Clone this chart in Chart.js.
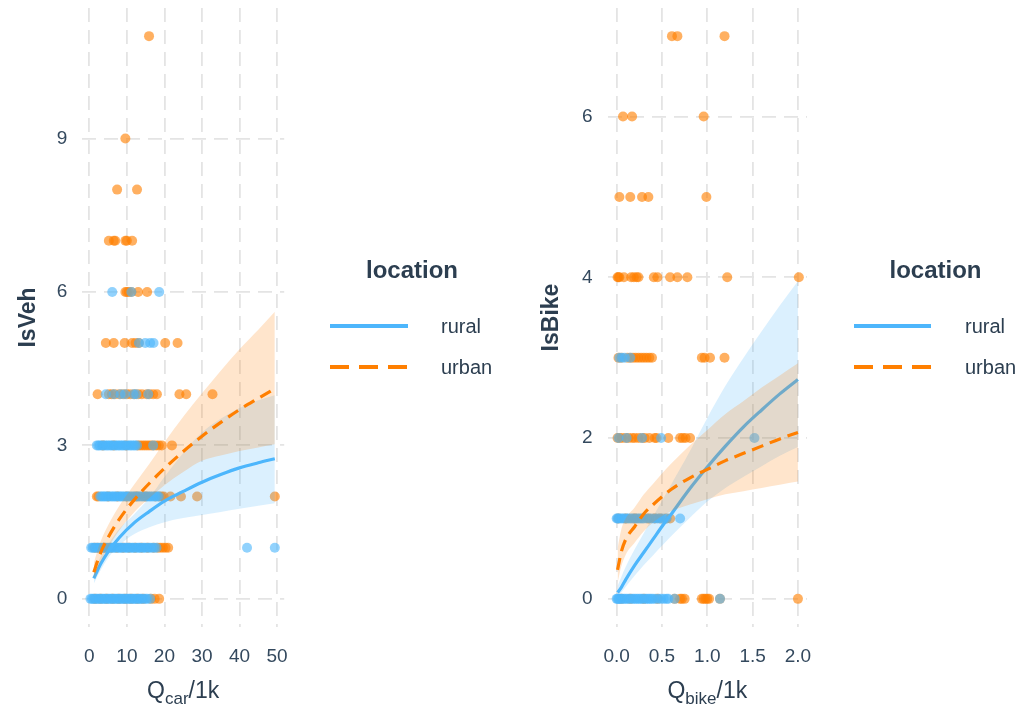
<!DOCTYPE html>
<html>
<head>
<meta charset="utf-8">
<script src="https://cdn.jsdelivr.net/npm/chart.js@4.4.1/dist/chart.umd.min.js"></script>
<style>
  html, body { margin: 0; padding: 0; background: #ffffff; }
  #wrap { position: relative; width: 1029px; height: 706px; overflow: hidden; }
  canvas { position: absolute; top: 0; }
</style>
</head>
<body>
<div id="wrap">
  <canvas id="vehChart" width="520" height="706" style="left:0px"></canvas>
  <canvas id="bikeChart" width="509" height="706" style="left:520px"></canvas>
</div>
<script>
// ---------- observed incidents: [count, [flows in 1k]] ----------
const vehRural = [
  [0, [0.3, 0.7, 1.1, 1.5, 1.9, 2.3, 2.7, 3.1, 3.5, 3.9, 4.3, 4.7, 5.1, 5.5, 5.9, 6.3, 6.7, 7.1, 7.5, 7.9, 8.3, 8.7, 9.1, 9.5, 9.9, 10.3, 10.7, 11.1, 11.5, 11.9, 12.3, 12.7, 13.1, 13.5, 13.9, 14.4, 14.9, 15.4, 16.2]],
  [1, [0.5, 0.9, 1.3, 1.7, 2.1, 2.5, 2.9, 3.3, 3.7, 4.1, 4.6, 5.0, 5.4, 5.8, 6.2, 6.6, 7.0, 7.5, 7.9, 8.3, 8.7, 9.1, 9.6, 10.0, 10.4, 10.8, 11.3, 11.7, 12.1, 12.5, 13.0, 13.4, 13.8, 14.3, 14.7, 15.2, 15.7, 16.2, 16.8, 17.3, 17.9, 42.0, 49.4]],
  [2, [2.9, 3.3, 3.7, 4.1, 4.5, 4.9, 5.3, 5.8, 6.2, 6.6, 7.0, 7.4, 7.9, 8.3, 8.7, 9.1, 9.6, 10.0, 10.4, 10.8, 11.3, 11.7, 12.1, 12.6, 13.0, 13.4, 13.9, 14.3, 14.7, 15.2, 15.6, 16.1, 16.5, 17.0, 17.5, 18.0, 18.5]],
  [3, [2.0, 2.4, 2.8, 3.3, 3.7, 4.1, 4.6, 5.0, 5.5, 5.9, 6.3, 6.8, 7.2, 7.7, 8.1, 8.6, 9.0, 9.5, 9.9, 10.4, 10.9, 11.3, 11.8, 12.2, 12.7, 17.0]],
  [4, [4.4, 6.5, 8.3, 9.5, 11.8, 12.5, 15.7]],
  [5, [13.2, 14.9, 16.2, 17.1]],
  [6, [6.1, 11.2, 18.6]]
];
const vehUrban = [
  [0, [1.5, 3.0, 4.6, 6.2, 7.9, 9.5, 11.1, 12.8, 14.3, 16.4, 17.4, 18.6]],
  [1, [1.4, 2.2, 4.1, 5.8, 7.3, 9.0, 10.6, 12.2, 13.9, 15.5, 17.1, 18.2, 18.9, 19.6, 20.3, 21.0]],
  [2, [2.0, 2.4, 5.0, 7.5, 10.0, 12.5, 15.0, 17.6, 18.6, 19.2, 19.8, 21.6, 24.4, 28.7, 49.4]],
  [3, [3.6, 6.5, 9.8, 12.9, 13.5, 14.1, 14.7, 15.3, 15.9, 16.5, 17.1, 17.8, 18.5, 19.3, 22.0]],
  [4, [2.2, 5.2, 6.0, 6.8, 8.0, 9.0, 10.0, 10.9, 12.0, 13.0, 14.0, 15.3, 16.0, 17.0, 18.0, 24.0, 25.8, 32.8]],
  [5, [4.4, 6.5, 9.4, 11.4, 12.3, 13.2, 20.2, 23.5]],
  [6, [9.6, 10.0, 10.5, 11.2, 13.0, 15.4]],
  [7, [5.2, 6.5, 6.9, 9.6, 10.0, 11.4]],
  [8, [7.4, 12.7]],
  [9, [9.6]],
  [11, [15.9]]
];
const bikeRural = [
  [0, [0.00, 0.01, 0.02, 0.03, 0.05, 0.06, 0.08, 0.10, 0.12, 0.14, 0.16, 0.18, 0.20, 0.22, 0.24, 0.26, 0.28, 0.30, 0.32, 0.34, 0.36, 0.38, 0.40, 0.43, 0.46, 0.49, 0.52, 0.55, 0.57, 0.64, 1.14]],
  [1, [0.00, 0.01, 0.02, 0.04, 0.06, 0.08, 0.10, 0.12, 0.14, 0.16, 0.18, 0.20, 0.22, 0.24, 0.26, 0.28, 0.30, 0.33, 0.36, 0.39, 0.42, 0.45, 0.48, 0.51, 0.55, 0.70]],
  [2, [0.02, 0.11, 0.28, 0.49, 1.52]],
  [3, [0.03, 0.06, 0.09, 0.15]]
];
const bikeUrban = [
  [0, [0.05, 0.15, 0.30, 0.45, 0.64, 0.70, 0.72, 0.75, 0.94, 0.96, 0.98, 1.00, 1.02, 1.14, 2.00]],
  [1, [0.02, 0.10, 0.20, 0.35, 0.42, 0.48, 0.55, 0.59]],
  [2, [0.01, 0.03, 0.06, 0.10, 0.13, 0.17, 0.20, 0.24, 0.28, 0.31, 0.36, 0.42, 0.44, 0.57, 0.70, 0.73, 0.76, 0.81]],
  [3, [0.02, 0.05, 0.12, 0.15, 0.18, 0.21, 0.24, 0.27, 0.30, 0.33, 0.36, 0.39, 0.94, 0.97, 1.03, 1.19]],
  [4, [0.01, 0.02, 0.03, 0.08, 0.16, 0.19, 0.22, 0.24, 0.41, 0.45, 0.59, 0.67, 0.78, 1.22, 2.01]],
  [5, [0.03, 0.15, 0.28, 0.35, 0.99]],
  [6, [0.07, 0.17, 0.96]],
  [7, [0.61, 0.67, 1.19]]
];

// ---------- fitted means with confidence bands ----------
const carFitX     = [1.2, 2, 3, 5, 8, 12, 16, 20, 25, 30, 35, 40, 45, 49.4];
const vehRuralFit = [0.40, 0.53, 0.68, 0.92, 1.20, 1.49, 1.71, 1.91, 2.10, 2.28, 2.43, 2.56, 2.66, 2.74];
const vehRuralLo  = [0.30, 0.42, 0.56, 0.80, 1.05, 1.27, 1.40, 1.50, 1.58, 1.64, 1.70, 1.76, 1.82, 1.87];
const vehRuralHi  = [0.53, 0.67, 0.82, 1.06, 1.37, 1.66, 1.98, 2.38, 2.85, 3.25, 3.52, 3.73, 3.88, 3.98];
const vehUrbanFit = [0.52, 0.70, 0.90, 1.20, 1.56, 1.94, 2.26, 2.55, 2.88, 3.18, 3.45, 3.70, 3.92, 4.11];
const vehUrbanLo  = [0.38, 0.54, 0.72, 1.00, 1.34, 1.70, 1.97, 2.22, 2.48, 2.70, 2.80, 2.89, 2.96, 3.02];
const vehUrbanHi  = [0.70, 0.90, 1.12, 1.44, 1.82, 2.24, 2.64, 3.06, 3.56, 4.02, 4.46, 4.88, 5.26, 5.61];

const bikeFitX     = [0.01, 0.05, 0.1, 0.2, 0.3, 0.4, 0.5, 0.6, 0.8, 1.0, 1.2, 1.4, 1.6, 1.8, 2.0];
const bikeRuralFit = [0.08, 0.14, 0.24, 0.42, 0.58, 0.74, 0.90, 1.05, 1.36, 1.64, 1.90, 2.14, 2.35, 2.55, 2.73];
const bikeRuralLo  = [0.04, 0.08, 0.15, 0.29, 0.42, 0.54, 0.66, 0.78, 1.00, 1.21, 1.38, 1.52, 1.65, 1.78, 1.89];
const bikeRuralHi  = [0.16, 0.27, 0.40, 0.62, 0.82, 1.02, 1.22, 1.42, 1.82, 2.25, 2.65, 3.00, 3.33, 3.65, 3.95];
const bikeUrbanFit = [0.36, 0.58, 0.74, 0.90, 1.06, 1.17, 1.27, 1.36, 1.50, 1.61, 1.72, 1.81, 1.90, 1.99, 2.07];
const bikeUrbanLo  = [0.20, 0.40, 0.55, 0.70, 0.84, 0.95, 1.03, 1.09, 1.17, 1.24, 1.30, 1.34, 1.38, 1.42, 1.46];
const bikeUrbanHi  = [0.62, 0.86, 1.00, 1.14, 1.30, 1.43, 1.56, 1.68, 1.90, 2.10, 2.30, 2.46, 2.63, 2.78, 2.93];

// ---------- ticks and labels ----------
const vehTicks   = [0, 3, 6, 9];
const carTicks   = [0, 10, 20, 30, 40, 50];
const bikeTicks  = [0, 2, 4, 6];
const qbikeTicks = [0, 0.5, 1, 1.5, 2];
const locations  = ['rural', 'urban'];

// ---------- styling ----------
const FONT = '"Liberation Sans", Arial, Helvetica, sans-serif';
const TEXT = '#2c3e50';
const TICK = '#34495e';
const GRID = '#e4e4e4';
const RURAL = [77, 182, 252];
const URBAN = [255, 127, 0];
const rgba = (c, a) => `rgba(${c[0]},${c[1]},${c[2]},${a})`;
const URBAN_DASH = [12, 7];
const GRID_DASH = [14, 8];

const toPoints = rows => rows.flatMap(([y, xs]) => xs.map(x => ({ x, y })));
const toCurve = (xs, ys) => xs.map((x, i) => ({ x, y: ys[i] }));

// axis titles (with subscript) and the colour/linetype key
const annotate = {
  id: 'annotate',
  afterDraw(chart, _args, o) {
    const { ctx, chartArea: a } = chart;

    ctx.save();
    ctx.fillStyle = TEXT;
    ctx.font = `bold 23px ${FONT}`;
    ctx.textAlign = 'center';
    ctx.textBaseline = 'alphabetic';
    ctx.translate(o.yTitleX, (a.top + a.bottom) / 2);
    ctx.rotate(-Math.PI / 2);
    ctx.fillText(o.yTitle, 0, 0);
    ctx.restore();

    ctx.save();
    ctx.fillStyle = TEXT;
    ctx.textAlign = 'left';
    ctx.textBaseline = 'alphabetic';
    const [main, sub, tail] = o.xTitle;
    ctx.font = `23px ${FONT}`;
    const w1 = ctx.measureText(main).width, w3 = ctx.measureText(tail).width;
    ctx.font = `17px ${FONT}`;
    const w2 = ctx.measureText(sub).width;
    let x = (a.left + a.right) / 2 - (w1 + w2 + w3) / 2;
    ctx.font = `23px ${FONT}`;
    ctx.fillText(main, x, o.xTitleY); x += w1;
    ctx.font = `17px ${FONT}`;
    ctx.fillText(sub, x, o.xTitleY + 6); x += w2;
    ctx.font = `23px ${FONT}`;
    ctx.fillText(tail, x, o.xTitleY);
    ctx.restore();

    const k = o.key;
    ctx.save();
    ctx.fillStyle = TEXT;
    ctx.font = `bold 24px ${FONT}`;
    ctx.textAlign = 'center';
    ctx.fillText(k.title, k.titleX, k.titleY);
    ctx.font = `20px ${FONT}`;
    ctx.textAlign = 'left';
    k.items.forEach((it, i) => {
      const y = k.rowY[i];
      ctx.save();
      ctx.strokeStyle = rgba(it.color, 1);
      ctx.lineWidth = 4;
      ctx.lineCap = 'butt';
      ctx.setLineDash(it.dash);
      ctx.beginPath();
      ctx.moveTo(k.x0, y);
      ctx.lineTo(k.x1, y);
      ctx.stroke();
      ctx.restore();
      ctx.fillText(it.label, k.labelX, y + 7);
    });
    ctx.restore();
  }
};

function curveSets(xs, rural, urban) {
  // rural band, rural mean, urban band, urban mean (urban drawn above)
  return [
    { data: toCurve(xs, rural.lo), borderWidth: 0, pointRadius: 0, fill: false, order: 8, cubicInterpolationMode: 'monotone' },
    { data: toCurve(xs, rural.hi), borderWidth: 0, pointRadius: 0, fill: 0, backgroundColor: rgba(RURAL, 0.2), order: 7, cubicInterpolationMode: 'monotone' },
    { data: toCurve(xs, rural.fit), borderColor: rgba(RURAL, 1), borderWidth: 3.2, pointRadius: 0, fill: false, order: 6, cubicInterpolationMode: 'monotone' },
    { data: toCurve(xs, urban.lo), borderWidth: 0, pointRadius: 0, fill: false, order: 5, cubicInterpolationMode: 'monotone' },
    { data: toCurve(xs, urban.hi), borderWidth: 0, pointRadius: 0, fill: 3, backgroundColor: rgba(URBAN, 0.2), order: 4, cubicInterpolationMode: 'monotone' },
    { data: toCurve(xs, urban.fit), borderColor: rgba(URBAN, 1), borderWidth: 3.2, borderDash: URBAN_DASH, pointRadius: 0, fill: false, order: 3, cubicInterpolationMode: 'monotone' }
  ];
}

function makePanel(id, p) {
  // datasets 0..5: curves/bands, 6..7: observations
  const datasets = curveSets(p.fitX, p.rural, p.urban).concat([
    { data: toPoints(p.urbanPts), showLine: false, pointRadius: 5, pointBorderWidth: 0, pointBackgroundColor: rgba(URBAN, 0.62), order: 12 },
    { data: toPoints(p.ruralPts), showLine: false, pointRadius: 5, pointBorderWidth: 0, pointBackgroundColor: rgba(RURAL, 0.62), order: 11 }
  ]);
  const tickFont = { family: FONT, size: 19 };
  return new Chart(document.getElementById(id), {
    type: 'line',
    data: { datasets },
    options: {
      responsive: false,
      animation: false,
      events: [],
      layout: { padding: { left: 0, top: 8, right: p.padRight, bottom: 0 } },
      plugins: {
        legend: { display: false },
        tooltip: { enabled: false },
        annotate: p.annotate
      },
      scales: {
        x: {
          type: 'linear', min: p.xMin, max: p.xMax,
          afterBuildTicks: s => { s.ticks = p.xTicks.map(value => ({ value })); },
          afterFit: s => { s.height = 79; s.paddingLeft = 0; s.paddingRight = 0; },
          ticks: { font: tickFont, color: TICK, padding: 18, maxRotation: 0, autoSkip: false, callback: p.xFmt },
          grid: { color: GRID, lineWidth: 1.8, drawTicks: false },
          border: { display: false, dash: GRID_DASH }
        },
        y: {
          type: 'linear', min: p.yMin, max: p.yMax,
          afterBuildTicks: s => { s.ticks = p.yTicks.map(value => ({ value })); },
          afterFit: s => { s.width = p.yWidth; s.paddingTop = 0; s.paddingBottom = 0; },
          ticks: { font: tickFont, color: TICK, padding: 15, autoSkip: false, callback: v => String(v) },
          grid: { color: GRID, lineWidth: 1.8, drawTicks: false },
          border: { display: false, dash: GRID_DASH }
        }
      }
    },
    plugins: [annotate]
  });
}

const keyItems = [
  { label: locations[0], color: RURAL, dash: [] },
  { label: locations[1], color: URBAN, dash: [19, 10] }
];

makePanel('vehChart', {
  fitX: carFitX,
  rural: { fit: vehRuralFit, lo: vehRuralLo, hi: vehRuralHi },
  urban: { fit: vehUrbanFit, lo: vehUrbanLo, hi: vehUrbanHi },
  ruralPts: vehRural, urbanPts: vehUrban,
  xMin: -1.9, xMax: 51.9, yMin: -0.55, yMax: 11.55,
  xTicks: carTicks, yTicks: vehTicks,
  xFmt: v => String(v),
  yWidth: 82.2, padRight: 235.8,
  annotate: {
    yTitle: 'IsVeh', yTitleX: 35,
    xTitle: ['Q', 'car', '/1k'], xTitleY: 698,
    key: { title: 'location', titleX: 412, titleY: 278, x0: 330, x1: 408, rowY: [326, 367], labelX: 441, items: keyItems }
  }
});

makePanel('bikeChart', {
  fitX: bikeFitX,
  rural: { fit: bikeRuralFit, lo: bikeRuralLo, hi: bikeRuralHi },
  urban: { fit: bikeUrbanFit, lo: bikeUrbanLo, hi: bikeUrbanHi },
  ruralPts: bikeRural, urbanPts: bikeUrban,
  xMin: -0.1, xMax: 2.1, yMin: -0.35, yMax: 7.35,
  xTicks: qbikeTicks, yTicks: bikeTicks,
  xFmt: v => Number(v).toFixed(1),
  yWidth: 87.6, padRight: 222,
  annotate: {
    yTitle: 'IsBike', yTitleX: 38,
    xTitle: ['Q', 'bike', '/1k'], xTitleY: 698,
    key: { title: 'location', titleX: 415.5, titleY: 278, x0: 334, x1: 411, rowY: [326, 367], labelX: 445, items: keyItems }
  }
});
</script>
</body>
</html>
